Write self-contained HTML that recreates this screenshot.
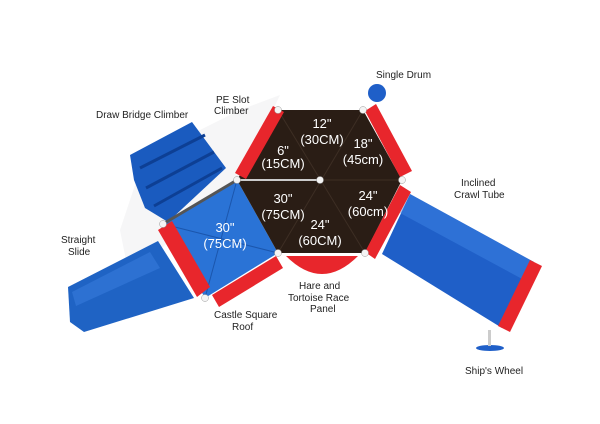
<!DOCTYPE html>
<html><head><style>
body{margin:0;background:#fff;width:600px;height:424px;overflow:hidden}
svg{display:block}
text{font-family:"Liberation Sans",sans-serif}
.l{font-size:10px;fill:#222}
.m{font-size:13px;fill:#fff;text-anchor:middle}
</style></head><body>
<svg width="600" height="424" viewBox="0 0 600 424">
<!-- light shadows -->
<polygon points="120,230 140,170 200,130 240,110 280,95 240,180 170,240 130,280" fill="#f6f6f7"/>
<!-- slide -->
<polygon points="68,287 158,241 194,298 84,332 70,322" fill="#1f63c4"/>
<polygon points="72,292 150,252 160,268 76,306" fill="#3b7fe0" opacity="0.5"/>
<!-- drawbridge climber -->
<polygon points="130,155 192,122 226,168 168,222 145,208 134,180" fill="#1a5bbf"/>
<line x1="140" y1="168" x2="205" y2="135" stroke="#0d3f94" stroke-width="3"/>
<line x1="146" y1="188" x2="214" y2="152" stroke="#0d3f94" stroke-width="3"/>
<line x1="154" y1="206" x2="222" y2="168" stroke="#0d3f94" stroke-width="3"/>
<!-- blue square roof -->
<polygon points="237,180 278,253 205,298 163,224" fill="#2a73d6"/>
<line x1="237" y1="180" x2="205" y2="298" stroke="#1b56ad" stroke-width="1"/>
<line x1="163" y1="224" x2="278" y2="253" stroke="#1b56ad" stroke-width="1"/>
<line x1="163" y1="224" x2="237" y2="180" stroke="#555" stroke-width="3"/>
<!-- red panels on square -->
<polygon points="158,230 172,221 210,287 197,297" fill="#e8262c"/>
<polygon points="212,295 276,256 283,268 219,307" fill="#e8262c"/>
<!-- tube -->
<polygon points="410,194 534,262 502,328 382,254" fill="#1f5fc8"/>
<polygon points="410,194 534,262 524,280 400,213" fill="#3d83e3" opacity="0.5"/>
<polygon points="530,260 542,266 510,332 498,326" fill="#e8262c"/>
<!-- hexagon -->
<polygon points="278,110 363,110 402,180 365,253 278,253 237,180" fill="#2a1d15"/>
<g stroke="#3d2e24" stroke-width="1">
<line x1="278" y1="110" x2="365" y2="253"/><line x1="363" y1="110" x2="278" y2="253"/><line x1="402" y1="180" x2="320" y2="180"/>
</g>
<line x1="237" y1="180" x2="320" y2="180" stroke="#ccc" stroke-width="2"/>
<!-- red hexagon panels -->
<polygon points="235,173 273,106 284,112 246,179" fill="#e8262c"/>
<polygon points="365,111 376,104 412,171 400,177" fill="#e8262c"/>
<polygon points="400,185 411,192 375,259 365,252" fill="#e8262c"/>
<path d="M286,256 L358,256 Q322,292 286,256Z" fill="#e8262c"/>
<!-- posts -->
<g fill="#f4f4f4" stroke="#999" stroke-width="0.5">
<circle cx="278" cy="110" r="3.5"/><circle cx="363" cy="110" r="3.5"/><circle cx="402" cy="180" r="3.5"/><circle cx="365" cy="253" r="3.5"/><circle cx="278" cy="253" r="3.5"/><circle cx="237" cy="180" r="3.5"/><circle cx="320" cy="180" r="3.5"/><circle cx="163" cy="224" r="3.5"/><circle cx="205" cy="298" r="3.5"/>
</g>
<!-- drum -->
<circle cx="377" cy="93" r="9" fill="#1f5fc8"/>
<!-- ship wheel -->
<ellipse cx="490" cy="348" rx="14" ry="3" fill="#1f5fc8"/>
<rect x="488" y="330" width="3" height="16" fill="#ccc"/>
<!-- measurements -->
<text class="m" x="322" y="128">12"</text><text class="m" x="322" y="144">(30CM)</text>
<text class="m" x="283" y="155">6"</text><text class="m" x="283" y="168">(15CM)</text>
<text class="m" x="363" y="148">18"</text><text class="m" x="363" y="164">(45cm)</text>
<text class="m" x="283" y="203">30"</text><text class="m" x="283" y="219">(75CM)</text>
<text class="m" x="368" y="200">24"</text><text class="m" x="368" y="216">(60cm)</text>
<text class="m" x="320" y="229">24"</text><text class="m" x="320" y="245">(60CM)</text>
<text class="m" x="225" y="232">30"</text><text class="m" x="225" y="248">(75CM)</text>
<!-- labels -->
<text class="l" x="96" y="118">Draw Bridge Climber</text>
<text class="l" x="216" y="103">PE Slot</text><text class="l" x="214" y="114">Climber</text>
<text class="l" x="376" y="78">Single Drum</text>
<text class="l" x="461" y="186">Inclined</text><text class="l" x="454" y="198">Crawl Tube</text>
<text class="l" x="61" y="243">Straight</text><text class="l" x="68" y="255">Slide</text>
<text class="l" x="299" y="289">Hare and</text><text class="l" x="288" y="301">Tortoise Race</text><text class="l" x="310" y="312">Panel</text>
<text class="l" x="214" y="318">Castle Square</text><text class="l" x="232" y="330">Roof</text>
<text class="l" x="465" y="374">Ship's Wheel</text>
</svg>
</body></html>
